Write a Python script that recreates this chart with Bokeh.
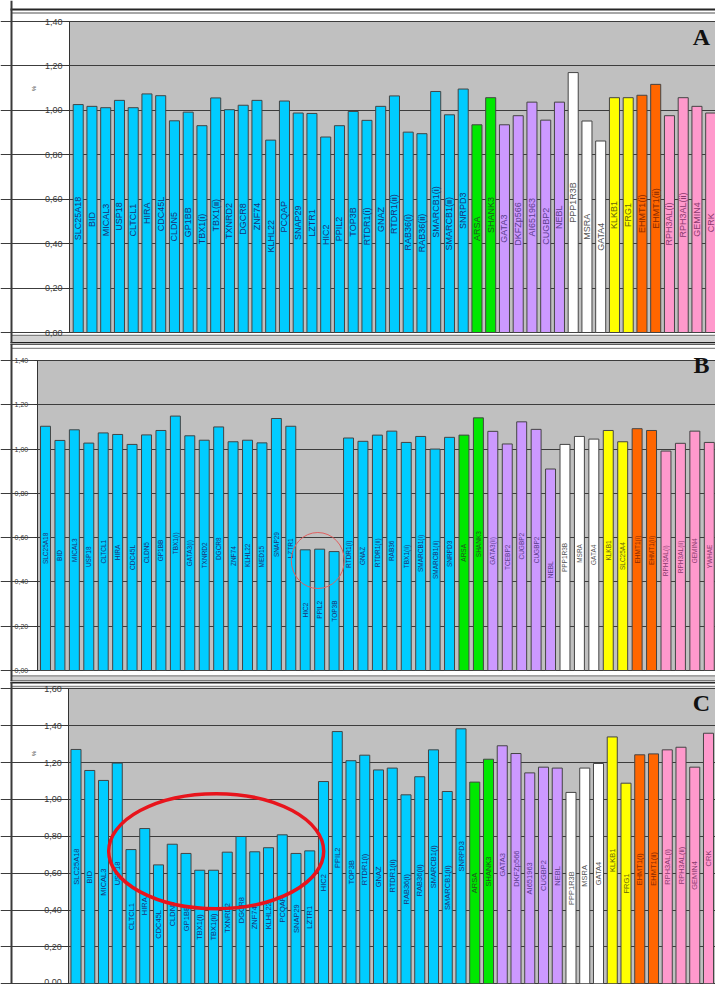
import math
from bokeh.plotting import figure
from bokeh.models import (ColumnDataSource, LinearAxis, FixedTicker,
                          CustomJSTickFormatter, Grid, Range1d)
from bokeh.layouts import column
from bokeh.core.properties import value
from bokeh.embed import file_html
from bokeh.resources import INLINE

# ---------------- data ----------------
genes_ac = ["SLC25A18", "BID", "MICAL3", "USP18", "CLTCL1", "HIRA", "CDC45L", "CLDN5",
            "GP1BB", "TBX1(i)", "TBX1(ii)", "TXNRD2", "DGCR8", "ZNF74", "KLHL22", "PCQAP",
            "SNAP29", "LZTR1", "HIC2", "PPIL2", "TOP3B", "RTDR1(i)", "GNAZ", "RTDR1(ii)",
            "RAB36(i)", "RAB36(ii)", "SMARCB1(i)", "SMARCB1(ii)", "SNRPD3",
            "ARSA", "SHANK3",
            "GATA3", "DKFZp566", "AI651963", "CUGBP2", "NEBL",
            "PPP1R3B", "MSRA", "GATA4",
            "KLKB1", "FRG1",
            "EHMT1(i)", "EHMT1(ii)",
            "RPH3AL(i)", "RPH3AL(ii)", "GEMIN4", "CRK"]

genes_b = ["SLC25A18", "BID", "MICAL3", "USP18", "CLTCL1", "HIRA", "CDC45L", "CLDN5",
           "GP1BB", "TBX1(i)", "GATA3(i)", "TXNRD2", "DGCR8", "ZNF74", "KLHL22", "MED15",
           "SNAP29", "LZTR1", "HIC2", "PPIL2", "TOP3B", "RTDR1(i)", "GNAZ", "RTDR1(ii)",
           "RAB36", "TBX1(ii)", "SMARCB1(i)", "SMARCB1(ii)", "SNRPD3",
           "ARSA", "SHANK3",
           "GATA3(ii)", "TCEBP2", "CUGBP2", "CUGBP2", "NEBL",
           "PPP1R3B", "MSRA", "GATA4",
           "KLKB1", "SLC25A4",
           "EHMT1(i)", "EHMT1(ii)",
           "RPH3AL(i)", "RPH3AL(ii)", "GEMIN4", "YWHAE"]

groups = (["22q11"] * 29 + ["22q13"] * 2 + ["ctrl1"] * 5 + ["ctrl2"] * 3 +
          ["ctrl3"] * 2 + ["9q34"] * 2 + ["ctrl4"] * 4)

values_a = [1.026, 1.018, 1.012, 1.045, 1.012, 1.074, 1.066, 0.953, 0.992, 0.931,
            1.056, 1.003, 1.023, 1.045, 0.866, 1.042, 0.988, 0.986, 0.880, 0.931,
            0.995, 0.955, 1.018, 1.065, 0.902, 0.895, 1.085, 0.980, 1.096,
            0.935, 1.057,
            0.935, 0.976, 1.037, 0.956, 1.037,
            1.170, 0.952, 0.862,
            1.057, 1.057,
            1.068, 1.117,
            0.976, 1.057, 1.018, 0.988]

values_b = [1.103, 1.039, 1.087, 1.027, 1.073, 1.066, 1.021, 1.064, 1.084, 1.149,
            1.060, 1.040, 1.100, 1.033, 1.040, 1.028, 1.138, 1.103, 0.545, 0.548,
            0.537, 1.050, 1.035, 1.063, 1.081, 1.030, 1.057, 1.000, 1.053,
            1.063, 1.141,
            1.080, 1.023, 1.123, 1.089, 0.910,
            1.021, 1.057, 1.045,
            1.084, 1.033,
            1.092, 1.084,
            0.991, 1.026, 1.081, 1.030]

values_c = [1.271, 1.157, 1.103, 1.197, 0.728, 0.842, 0.645, 0.757, 0.707, 0.616,
            0.616, 0.714, 0.799, 0.716, 0.738, 0.808, 0.707, 0.721, 1.097, 1.368,
            1.210, 1.240, 1.160, 1.170, 1.025, 1.123, 1.269, 1.043, 1.383,
            1.094, 1.218,
            1.291, 1.249, 1.144, 1.175, 1.170,
            1.038, 1.170, 1.195,
            1.339, 1.088,
            1.242, 1.247,
            1.269, 1.283, 1.175, 1.359]

# ---------------- style ----------------
FILL = {"22q11": "#00CCFF", "22q13": "#00E800", "ctrl1": "#CC99FF", "ctrl2": "#FFFFFF",
        "ctrl3": "#FFFF00", "9q34": "#FF6600", "ctrl4": "#FF99CC"}
TXT = {"22q11": "#1B3275", "22q13": "#1E5A1E", "ctrl1": "#5A3C8C", "ctrl2": "#555555",
       "ctrl3": "#66660A", "9q34": "#8A2A00", "ctrl4": "#8A3A6E"}
W = 715


def make_panel(genes, vals, H, off, y0_px, ytop_px, ymax, axis_px, first_px, pitch,
               bar_w, lab_size, tick_size, standoff, letter, letter_px,
               box_top, box_bottom, ytitle=None):
    """All *_px arguments are window pixel positions; off = window y of canvas top."""
    ppu = (y0_px - ytop_px) / ymax

    def px_x(px):
        return (px - first_px) / pitch

    def px_y(py):
        return (y0_px - py) / ppu

    x_start, x_end = px_x(0), px_x(W)
    y_start, y_end = px_y(off + H), px_y(off)
    axis_x = px_x(axis_px)

    p = figure(width=W, height=H, x_range=Range1d(x_start, x_end),
               y_range=Range1d(y_start, y_end), output_backend="svg",
               toolbar_location=None, x_axis_location=None, y_axis_location=None,
               min_border_left=0, min_border_right=0, min_border_top=0,
               min_border_bottom=0)
    p.center = [r for r in p.center if not isinstance(r, Grid)]
    p.outline_line_color = None
    p.background_fill_color = "white"
    p.border_fill_color = "white"

    # ---- page frame decoration ----
    def hseg(y, x0, x1, color, w):
        p.segment(x0=[px_x(x0)], y0=[px_y(y)], x1=[px_x(x1)], y1=[px_y(y)],
                  line_color=color, line_width=w)

    if box_top[0] is not None:
        hseg(box_top[0], 10, W, "#262626", box_top[1])
    hseg(box_top[2], 11, W, "#8A8A8A", 1.3)
    if box_bottom is not None:
        hseg(box_bottom[0], 11, W, "#808080", 1.3)
        p.quad(left=[px_x(12)], right=[px_x(W)], bottom=[px_y(box_bottom[1])],
               top=[px_y(box_bottom[0] + 0.7)], fill_color="#D2D2D2", line_color=None)
        hseg(box_bottom[2], 10, W, "#1E1E1E", box_bottom[3])
    p.segment(x0=[px_x(11)], y0=[px_y(off)], x1=[px_x(11)], y1=[px_y(off + H)],
              line_color="#3A3A3A", line_width=2)

    # ---- grey plotting area ----
    p.quad(left=[axis_x], right=[x_end], bottom=[0], top=[ymax],
           fill_color="#C0C0C0", line_color=None, level="image")

    n_t = int(round(ymax / 0.2))
    ticker = FixedTicker(ticks=[round(0.2 * k, 2) for k in range(n_t + 1)])
    grid = Grid(dimension=1, ticker=ticker, bounds=(axis_x, x_end),
                grid_line_color="#3C3C3C", grid_line_width=1)
    p.add_layout(grid)

    yaxis = LinearAxis(fixed_location=axis_x, ticker=ticker, bounds=(0, ymax),
                       formatter=CustomJSTickFormatter(
                           code="return tick.toFixed(2).replace('.', ',');"),
                       major_tick_out=3, major_tick_in=0, minor_tick_out=0,
                       minor_tick_in=0, major_label_standoff=standoff,
                       axis_line_color="#333333", major_tick_line_color="#333333",
                       major_label_text_font="Liberation Sans",
                       major_label_text_font_size=tick_size,
                       major_label_text_color="#3A3A3A")
    p.add_layout(yaxis, "left")

    src = ColumnDataSource(dict(
        x=list(range(len(vals))), top=vals, label=genes,
        label_y=[v / 2 for v in vals],
        color=[FILL[g] for g in groups], tcolor=[TXT[g] for g in groups]))
    p.vbar(x="x", top="top", bottom=0, width=bar_w, fill_color="color",
           line_color="#444444", line_width=1, source=src)
    p.text(x="x", y="label_y", text="label", angle=math.pi / 2,
           text_align="center", text_baseline="middle",
           text_font=value("Liberation Sans"), text_font_size=lab_size,
           text_color="tcolor", source=src)

    p.text(x=[px_x(letter_px[0])], y=[px_y(letter_px[1])], text=[letter],
           text_align="center", text_baseline="middle",
           text_font=value("Liberation Serif"), text_font_style="bold",
           text_font_size="24px", text_color="#111111")

    if ytitle is not None:
        p.text(x=[px_x(ytitle[0])], y=[px_y(ytitle[1])], text=["%"],
               angle=math.pi / 2, text_align="center", text_baseline="middle",
               text_font=value("Liberation Sans"), text_font_size="6px",
               text_color="#444444")
    return p, px_x, px_y


# Panel A: window rows 0..343
pA, axA, ayA = make_panel(genes_ac, values_a, 343, 0, 332.0, 21.0, 1.4,
                          69.0, 77.7, 13.75, 0.73, "9px", "9px", 4,
                          "A", (701, 36), box_top=(9, 2, 12.5),
                          box_bottom=(335, 342, 342.8, 2.5), ytitle=(33, 88))

# Panel B: window rows 343..681
pB, axB, ayB = make_panel(genes_b, values_b, 338, 343, 670.0, 360.0, 1.4,
                          36.7, 45.0, 14.43, 0.69, "6.5px", "7px", 6,
                          "B", (701, 364), box_top=(343.5, 1.5, 347.8),
                          box_bottom=(675.5, 681, 681, 2))
pB.ellipse(x=[axB(317.3)], y=[ayB(560)], width=53, height=56,
           width_units="screen", height_units="screen", fill_alpha=0,
           line_color="#E06060", line_width=1)

# Panel C: window rows 681..984
pC, axC, ayC = make_panel(genes_ac, values_c, 303, 681, 983.3, 688.3, 1.6,
                          68.3, 75.5, 13.75, 0.73, "7.5px", "9px", 4,
                          "C", (701, 702), box_top=(682, 2, 686),
                          box_bottom=None, ytitle=(33, 753))
pC.ellipse(x=[axC(215.7)], y=[ayC(850.7)], width=215, height=115,
           width_units="screen", height_units="screen", fill_alpha=0,
           line_color="#E8141C", line_width=3.5)

layout = column(pA, pB, pC, spacing=0)
open("out.html", "w").write(file_html(layout, INLINE))
